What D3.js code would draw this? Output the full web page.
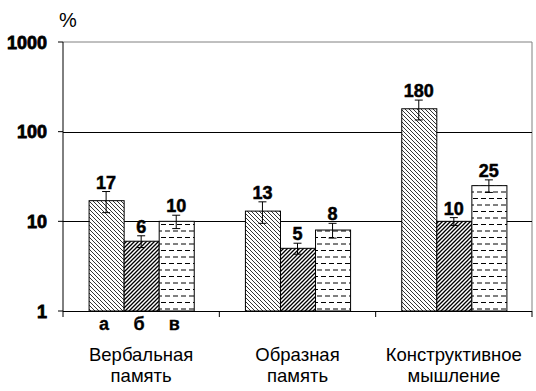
<!DOCTYPE html>
<html lang="ru">
<head>
<meta charset="UTF-8">
<title>Chart</title>
<script src="https://d3js.org/d3.v7.min.js"></script>
<style>
  body { margin: 0; background: #fff; }
  text { font-family: "Liberation Sans", Arial, sans-serif; fill: #000; }
</style>
</head>
<body>
<script>
// data
var categories = [["Вербальная", "память"], ["Образная", "память"], ["Конструктивное", "мышление"]];
var series = ["а", "б", "в"];
var valuesA = [17, 13, 180];
var valuesB = [6, 5, 10];
var valuesC = [10, 8, 25];
var errA = [4.5, 3.5, 45];
var errB = [0.9, 0.7, 1];
var errC = [1.7, 1.5, 4];
var yTicks = [1, 10, 100, 1000];

var width = 536, height = 391;
var plotL = 63, plotR = 532, plotT = 42, plotB = 311;

var svg = d3.select("body").append("svg")
  .attr("width", width)
  .attr("height", height);

// patterns
var defs = svg.append("defs");
var pa = defs.append("pattern").attr("id", "pa")
  .attr("patternUnits", "userSpaceOnUse").attr("width", 4).attr("height", 4);
pa.append("rect").attr("width", 4).attr("height", 4).attr("fill", "#fff");
pa.append("path").attr("d", "M-1,-1 L5,5 M-1,3 L1,5 M3,-1 L5,1")
  .attr("stroke", "#000").attr("stroke-width", 0.8);

var pb = defs.append("pattern").attr("id", "pb")
  .attr("patternUnits", "userSpaceOnUse").attr("width", 4).attr("height", 4);
pb.append("rect").attr("width", 4).attr("height", 4).attr("fill", "#fff");
pb.append("path").attr("d", "M-1,5 L5,-1 M-1,1 L1,-1 M3,5 L5,3")
  .attr("stroke", "#000").attr("stroke-width", 1.3);

var pc = defs.append("pattern").attr("id", "pc")
  .attr("patternUnits", "userSpaceOnUse").attr("width", 8).attr("height", 13);
pc.append("rect").attr("width", 8).attr("height", 13).attr("fill", "#fff");
pc.append("path").attr("d", "M1,3.5 L6,3.5 M5,10 L8,10 M0,10 L2,10")
  .attr("stroke", "#000").attr("stroke-width", 1);

var fills = ["url(#pa)", "url(#pb)", "url(#pc)"];

var x0 = d3.scaleBand().domain(d3.range(categories.length)).range([plotL, plotR]);
var x1 = d3.scaleBand().domain(series).range([0, x0.bandwidth()])
  .paddingInner(0).paddingOuter(0.73);
var y = d3.scaleLog().domain([1, 1000]).range([plotB, plotT]);

// frame
svg.append("line").attr("x1", plotL).attr("x2", plotR).attr("y1", y(1000)).attr("y2", y(1000))
  .attr("stroke", "#808080");
svg.append("line").attr("x1", plotR).attr("x2", plotR).attr("y1", plotT).attr("y2", plotB)
  .attr("stroke", "#808080");

// gridlines
svg.selectAll(".grid").data([10, 100]).enter().append("line")
  .attr("x1", plotL).attr("x2", plotR)
  .attr("y1", function(d) { return Math.round(y(d)) + 0.5; })
  .attr("y2", function(d) { return Math.round(y(d)) + 0.5; })
  .attr("stroke", "#000");

// bars
var rows = [];
categories.forEach(function(c, i) {
  rows.push({ c: i, s: "а", v: valuesA[i], e: errA[i], f: fills[0] });
  rows.push({ c: i, s: "б", v: valuesB[i], e: errB[i], f: fills[1] });
  rows.push({ c: i, s: "в", v: valuesC[i], e: errC[i], f: fills[2] });
});

function cx(d) { return x0(d.c) + x1(d.s) + x1.bandwidth() / 2; }

svg.selectAll(".bar").data(rows).enter().append("rect")
  .attr("x", function(d) { return x0(d.c) + x1(d.s) + 0.5; })
  .attr("y", function(d) { return y(d.v); })
  .attr("width", x1.bandwidth())
  .attr("height", function(d) { return plotB - y(d.v); })
  .attr("fill", function(d) { return d.f; })
  .attr("stroke", "#000").attr("stroke-width", 1);

// error bars
var eb = svg.selectAll(".err").data(rows).enter().append("g");
eb.append("line")
  .attr("x1", cx).attr("x2", cx)
  .attr("y1", function(d) { return y(d.v + d.e); })
  .attr("y2", function(d) { return y(d.v - d.e); })
  .attr("stroke", "#000");
eb.append("line")
  .attr("x1", function(d) { return cx(d) - 4; }).attr("x2", function(d) { return cx(d) + 4; })
  .attr("y1", function(d) { return y(d.v + d.e); }).attr("y2", function(d) { return y(d.v + d.e); })
  .attr("stroke", "#000");
eb.append("line")
  .attr("x1", function(d) { return cx(d) - 4; }).attr("x2", function(d) { return cx(d) + 4; })
  .attr("y1", function(d) { return y(d.v - d.e); }).attr("y2", function(d) { return y(d.v - d.e); })
  .attr("stroke", "#000");

// value labels
svg.selectAll(".val").data(rows).enter().append("text")
  .attr("x", cx)
  .attr("y", function(d) { return y(d.v + d.e) - 3; })
  .attr("text-anchor", "middle")
  .style("font-size", "18px").style("font-weight", "bold")
  .style("stroke", "#000").style("stroke-width", 0.5)
  .text(function(d) { return d.v; });

// y axis
svg.append("line").attr("x1", plotL).attr("x2", plotL).attr("y1", plotT).attr("y2", plotB)
  .attr("stroke", "#000");
svg.selectAll(".ytick").data(yTicks).enter().append("line")
  .attr("x1", plotL - 5).attr("x2", plotL)
  .attr("y1", function(d) { return y(d); }).attr("y2", function(d) { return y(d); })
  .attr("stroke", "#000");
svg.selectAll(".ylab").data(yTicks).enter().append("text")
  .attr("x", 47)
  .attr("y", function(d) { return y(d) + 6.5; })
  .attr("text-anchor", "end")
  .style("font-size", "18px").style("font-weight", "bold")
  .style("stroke", "#000").style("stroke-width", 0.8)
  .text(function(d) { return d; });

svg.append("text").attr("x", 59).attr("y", 27)
  .style("font-size", "20px").text("%");

// x axis
svg.append("line").attr("x1", plotL).attr("x2", plotR).attr("y1", plotB + 0.5).attr("y2", plotB + 0.5)
  .attr("stroke", "#000");
var xt = d3.range(categories.length + 1).map(function(i) {
  return i < categories.length ? x0(i) : x0(i - 1) + x0.bandwidth();
});
svg.selectAll(".xtick").data(xt).enter().append("line")
  .attr("x1", function(d) { return d; }).attr("x2", function(d) { return d; })
  .attr("y1", plotB).attr("y2", plotB + 6)
  .attr("stroke", "#000");

// series letters under first group
svg.selectAll(".ser").data(series).enter().append("text")
  .attr("x", function(d) { return x0(0) + x1(d) + x1.bandwidth() / 2 - 2; })
  .attr("y", 330)
  .attr("text-anchor", "middle")
  .style("font-size", "18px").style("font-weight", "bold")
  .style("stroke", "#000").style("stroke-width", 0.3)
  .text(function(d) { return d; });

// category labels
var cl = svg.selectAll(".cat").data(categories).enter().append("text")
  .attr("text-anchor", "middle")
  .style("font-size", "18.5px");
cl.append("tspan")
  .attr("x", function(d, i) { return x0(i) + x0.bandwidth() / 2; })
  .attr("y", 361)
  .text(function(d) { return d[0]; });
cl.append("tspan")
  .attr("x", function(d, i) { return x0(i) + x0.bandwidth() / 2; })
  .attr("y", 382)
  .text(function(d) { return d[1]; });
</script>
</body>
</html>
